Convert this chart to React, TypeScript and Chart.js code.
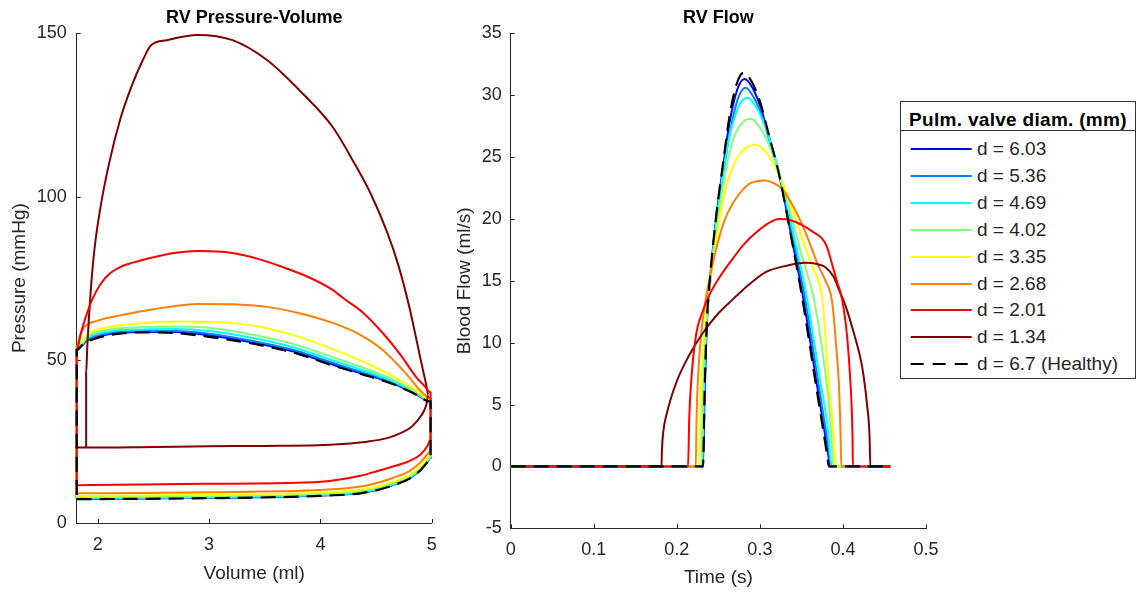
import React, { useEffect, useRef } from "react";
import { Chart, registerables } from "chart.js";

Chart.register(...registerables);

const FONT = "'Liberation Sans', Arial, Helvetica, sans-serif";
const AXIS_COLOR = "#262626";

// ---------- series meta ----------
const seriesLabels = ["d = 6.03", "d = 5.36", "d = 4.69", "d = 4.02", "d = 3.35", "d = 2.68", "d = 2.01", "d = 1.34", "d = 6.7 (Healthy)"];
const seriesColors = ["#0000FF", "#0080FF", "#00FFFF", "#80FF80", "#FFFF00", "#FF8000", "#FF0000", "#800000", "#000000"];
const seriesOrder = [8, 7, 6, 5, 4, 3, 1, 2, 0];

// ---------- axis ticks ----------
const pvVolumeTicks = [2, 3, 4, 5];
const pvPressureTicks = [0, 50, 100, 150];
const flowTimeTicks = [0, 0.1, 0.2, 0.3, 0.4, 0.5];
const flowValueTicks = [-5, 0, 5, 10, 15, 20, 25, 30, 35];

// ---------- RV pressure-volume loops ----------
const fillVolume = [1.81, 2.4, 3.0, 3.6, 4.0, 4.36, 4.5, 4.65, 4.8, 4.9, 4.96, 4.99];
const ejectVolume = [4.99, 4.85, 4.65, 4.35, 4.06, 3.8, 3.46, 3.0, 2.7, 2.4, 2.11, 1.9, 1.81];

const fillP603 = [7.4, 7.5, 7.7, 8.0, 8.4, 9.2, 10.1, 11.6, 13.7, 16.3, 18.7, 19.9];
const ejectP603 = [37.2, 39.6, 42.8, 46.0, 49.1, 52.1, 54.8, 57.5, 58.5, 58.5, 57.9, 55.8, 53.0];

const fillP536 = [7.5, 7.6, 7.8, 8.1, 8.5, 9.3, 10.2, 11.7, 13.8, 16.4, 18.8, 20.0];
const ejectP536 = [37.3, 39.8, 43.0, 46.4, 49.6, 52.6, 55.3, 58.0, 58.8, 58.8, 58.2, 56.0, 53.0];

const fillP469 = [7.6, 7.7, 7.9, 8.2, 8.6, 9.4, 10.3, 11.8, 13.9, 16.5, 18.9, 20.1];
const ejectP469 = [37.4, 40.0, 43.4, 47.1, 50.4, 53.4, 56.2, 58.8, 59.4, 59.3, 58.7, 56.5, 53.0];

const fillP402 = [7.9, 8.0, 8.2, 8.5, 8.9, 9.7, 10.6, 12.1, 14.2, 16.8, 19.2, 20.4];
const ejectP402 = [37.5, 40.3, 44.0, 48.0, 51.4, 54.4, 57.2, 59.8, 60.2, 60.0, 59.3, 57.0, 53.0];

const fillP335 = [8.3, 8.4, 8.6, 8.9, 9.3, 10.2, 11.1, 12.6, 14.7, 17.3, 19.7, 21.0];
const ejectVolume335 = [4.99, 4.86, 4.65, 4.41, 4.1, 3.81, 3.5, 3.21, 3.0, 2.7, 2.4, 2.11, 1.9, 1.81];
const ejectP335 = [37.7, 40.7, 45.0, 49.0, 53.4, 57.0, 59.8, 61.3, 61.6, 61.7, 61.2, 60.1, 57.6, 53.5];

const fillP268 = [9.1, 9.2, 9.4, 9.7, 10.1, 11.2, 12.2, 13.8, 15.9, 18.6, 21.0, 22.0];
const ejectVolume268 = [4.99, 4.92, 4.75, 4.56, 4.35, 4.11, 3.82, 3.52, 3.2, 2.91, 2.5, 2.2, 2.0, 1.88, 1.84, 1.81];
const ejectP268 = [38.3, 39.8, 46.5, 53.0, 57.8, 61.3, 64.2, 66.2, 67.0, 67.1, 65.5, 63.6, 62.0, 60.0, 57.5, 54.0];

const fillP201 = [11.6, 11.8, 12.0, 12.2, 12.6, 14.5, 15.8, 17.3, 19.0, 21.0, 23.5, 25.5];
const ejectVolume201 = [4.99, 4.93, 4.86, 4.72, 4.56, 4.38, 4.2, 4.11, 3.9, 3.66, 3.44, 3.21, 2.91, 2.7, 2.47, 2.3, 2.2, 2.11, 2.02, 1.95, 1.9, 1.85, 1.81];
const ejectP201 = [40.0, 42.2, 44.7, 51.5, 58.2, 64.5, 69.0, 71.4, 75.2, 78.4, 80.9, 82.7, 83.3, 82.8, 81.2, 79.6, 78.4, 76.5, 73.0, 68.5, 64.0, 58.5, 53.0];

const fillVolume134 = [1.81, 1.895, 2.5, 3.0, 3.5, 3.97, 4.2, 4.42, 4.6, 4.72, 4.82, 4.9, 4.95, 4.97];
const fillP134 = [23.1, 23.1, 23.3, 23.5, 23.6, 23.8, 24.2, 24.9, 26.0, 27.5, 29.5, 32.6, 36.0, 39.2];
const ejectVolume134 = [4.95, 4.92, 4.87, 4.8, 4.7, 4.6, 4.45, 4.3, 4.11, 3.81, 3.52, 3.21, 2.89, 2.62, 2.48, 2.4, 2.3, 2.2, 2.1, 2.02, 1.97, 1.94, 1.92, 1.905, 1.895, 1.895];
const ejectP134 = [42.5, 47.0, 55.0, 66.0, 79.0, 89.0, 101.0, 110.5, 121.3, 132.6, 141.8, 147.9, 149.5, 147.9, 146.4, 141.5, 133.5, 123.5, 110.0, 96.0, 84.0, 73.0, 63.0, 54.0, 46.0, 23.1];

const fillPHealthy = [7.3, 7.4, 7.6, 7.9, 8.3, 9.1, 10.0, 11.5, 13.6, 16.2, 18.6, 19.8];
const ejectVolumeHealthy = [4.99, 4.85, 4.65, 4.35, 4.06, 3.8, 3.46, 3.0, 2.7, 2.4, 2.11, 1.9, 1.86, 1.81];
const ejectPHealthy = [37.2, 39.5, 42.6, 45.8, 48.8, 51.8, 54.5, 57.0, 58.2, 58.4, 57.6, 55.5, 54.6, 53.0];

// ---------- RV flow ----------
const time603 = [0, 0.2315, 0.2335, 0.236, 0.2395, 0.2475, 0.2555, 0.2635, 0.2725, 0.2814, 0.291, 0.301, 0.311, 0.3245, 0.3385, 0.3525, 0.368, 0.382, 0.3845, 0.457];
const flow603 = [0, 0, 6, 11.5, 14.8, 20.1, 24.1, 27.8, 30.4, 31.3, 30.6, 29.0, 26.6, 23.2, 18.4, 13.5, 6.9, 1.1, 0, 0];

const time536 = [0, 0.231, 0.233, 0.236, 0.24, 0.248, 0.256, 0.264, 0.273, 0.2826, 0.292, 0.302, 0.312, 0.326, 0.34, 0.3545, 0.37, 0.3835, 0.386, 0.457];
const flow536 = [0, 0, 6, 11.4, 14.8, 19.9, 23.7, 27.0, 29.6, 30.6, 29.9, 28.4, 26.2, 22.9, 18.4, 13.5, 6.9, 1.1, 0, 0];

const time469 = [0, 0.2305, 0.2325, 0.2355, 0.2395, 0.2465, 0.2545, 0.2625, 0.271, 0.278, 0.2854, 0.295, 0.305, 0.315, 0.328, 0.342, 0.357, 0.372, 0.381, 0.387, 0.457];
const flow469 = [0, 0, 6, 11.3, 14.6, 19.2, 23.2, 26.4, 28.5, 29.5, 29.8, 29.1, 27.7, 25.7, 22.5, 18.3, 13.5, 7.2, 3.5, 0, 0];

const time402 = [0, 0.2295, 0.2315, 0.235, 0.2395, 0.2455, 0.2535, 0.2615, 0.27, 0.279, 0.2894, 0.299, 0.309, 0.319, 0.332, 0.349, 0.365, 0.377, 0.384, 0.389, 0.457];
const flow402 = [0, 0, 6, 11.2, 14.3, 18.0, 21.8, 24.8, 26.8, 27.8, 28.1, 27.5, 26.3, 24.5, 21.6, 17.4, 13.5, 8.5, 4.5, 0, 0];

const time335 = [0, 0.2267, 0.229, 0.2335, 0.238, 0.2435, 0.2515, 0.2595, 0.27, 0.282, 0.2954, 0.306, 0.316, 0.327, 0.34, 0.352, 0.364, 0.3752, 0.383, 0.389, 0.3915, 0.457];
const flow335 = [0, 0, 6, 11, 13.8, 16.5, 20.0, 22.6, 24.6, 25.7, 26.0, 25.5, 24.5, 23.0, 20.6, 18.2, 16.0, 13.5, 6.8, 2.5, 0, 0];

const time268 = [0, 0.2228, 0.2238, 0.2258, 0.2295, 0.2345, 0.2405, 0.2475, 0.257, 0.267, 0.2865, 0.306, 0.3165, 0.327, 0.341, 0.355, 0.371, 0.379, 0.387, 0.3915, 0.395, 0.397, 0.398, 0.457];
const flow268 = [0, 0, 4, 7.5, 10.8, 13.4, 15.5, 17.6, 19.8, 21.2, 22.8, 23.1, 22.9, 22.4, 20.9, 18.9, 16.1, 15.0, 13.3, 10.0, 6.8, 3.0, 0, 0];

const time201 = [0, 0.2135, 0.215, 0.218, 0.2236, 0.2315, 0.2395, 0.2535, 0.2675, 0.2815, 0.2954, 0.309, 0.323, 0.337, 0.351, 0.363, 0.375, 0.381, 0.385, 0.393, 0.399, 0.405, 0.409, 0.4115, 0.412, 0.457];
const flow201 = [0, 0, 4, 7.5, 10.8, 12.6, 13.9, 15.5, 16.8, 18.0, 18.9, 19.6, 20.0, 19.9, 19.5, 19.0, 18.4, 17.7, 16.8, 14.9, 13.5, 10.5, 6.8, 2.5, 0, 0];

const time134 = [0, 0.1815, 0.182, 0.1835, 0.188, 0.1995, 0.215, 0.2315, 0.249, 0.2674, 0.287, 0.307, 0.331, 0.355, 0.369, 0.379, 0.389, 0.395, 0.403, 0.413, 0.423, 0.429, 0.432, 0.433, 0.457];
const flow134 = [0, 0, 1.2, 2.7, 4.3, 6.8, 9.0, 10.8, 12.3, 13.5, 14.7, 15.7, 16.2, 16.45, 16.35, 16.1, 15.3, 14.3, 13.0, 10.8, 8.1, 5.0, 2.5, 0, 0];

const timeHealthy = [0, 0.2315, 0.2335, 0.236, 0.2395, 0.2475, 0.2555, 0.2635, 0.2715, 0.2802, 0.29, 0.3, 0.31, 0.3234, 0.3375, 0.3513, 0.367, 0.381, 0.383, 0.457];
const flowHealthy = [0, 0, 6, 11.5, 14.9, 20.3, 24.4, 28.3, 30.8, 31.8, 31.1, 29.5, 27.0, 23.5, 18.6, 13.5, 6.8, 0.9, 0, 0];

// ---------- tables built from the arrays ----------
const pvTable = [
  [fillVolume, fillP603, ejectVolume, ejectP603],
  [fillVolume, fillP536, ejectVolume, ejectP536],
  [fillVolume, fillP469, ejectVolume, ejectP469],
  [fillVolume, fillP402, ejectVolume, ejectP402],
  [fillVolume, fillP335, ejectVolume335, ejectP335],
  [fillVolume, fillP268, ejectVolume268, ejectP268],
  [fillVolume, fillP201, ejectVolume201, ejectP201],
  [fillVolume134, fillP134, ejectVolume134, ejectP134],
  [fillVolume, fillPHealthy, ejectVolumeHealthy, ejectPHealthy],
];
const flowTable = [
  [time603, flow603],
  [time536, flow536],
  [time469, flow469],
  [time402, flow402],
  [time335, flow335],
  [time268, flow268],
  [time201, flow201],
  [time134, flow134],
  [timeHealthy, flowHealthy],
];

const HEALTHY_DASH = [15, 8];

function lineStyle(i: number) {
  const healthy = i === seriesLabels.length - 1;
  return {
    label: seriesLabels[i],
    borderColor: seriesColors[i],
    backgroundColor: seriesColors[i],
    borderWidth: healthy ? 2.2 : 2,
    borderDash: healthy ? HEALTHY_DASH : [],
    pointRadius: 0,
    pointHoverRadius: 0,
    fill: false,
    cubicInterpolationMode: "monotone" as const,
    order: seriesOrder[i],
    clip: false as const,
  };
}

function pvDatasets() {
  return pvTable.map(([fv, fp, ev, ep], i) => {
    const pts: { x: number; y: number }[] = [];
    fv.forEach((v, k) => pts.push({ x: v, y: fp[k] }));
    ev.forEach((v, k) => pts.push({ x: v, y: ep[k] }));
    pts.push({ x: fv[0], y: fp[0] });
    return { ...lineStyle(i), data: pts };
  });
}

function flowDatasets() {
  return flowTable.map(([t, f], i) => ({
    ...lineStyle(i),
    data: t.map((v, k) => ({ x: v, y: f[k] })),
  }));
}

const inwardTicks = {
  id: "inwardTicks",
  beforeDatasetsDraw(chart: any) {
    const { ctx, chartArea, scales } = chart;
    const len = 4;
    ctx.save();
    ctx.strokeStyle = AXIS_COLOR;
    ctx.lineWidth = 1;
    ctx.beginPath();
    for (const t of scales.x.ticks) {
      const px = Math.round(scales.x.getPixelForValue(t.value)) + 0.5;
      ctx.moveTo(px, chartArea.bottom);
      ctx.lineTo(px, chartArea.bottom - len);
    }
    for (const t of scales.y.ticks) {
      const py = Math.round(scales.y.getPixelForValue(t.value)) + 0.5;
      ctx.moveTo(chartArea.left, py);
      ctx.lineTo(chartArea.left + len, py);
    }
    ctx.stroke();
    ctx.restore();
  },
};

type Geo = {
  yWidth: number;
  xHeight: number;
  padRight: number;
  yTitlePad: number;
  yTickPad: number;
  xTickPad: number;
  xTitlePad: number;
};

function makeConfig(
  title: string,
  xTitle: string,
  yTitle: string,
  xMin: number,
  xMax: number,
  yMin: number,
  yMax: number,
  xTicks: number[],
  yTicks: number[],
  datasets: any[],
  g: Geo
): any {
  const tickFont = { family: FONT, size: 18 };
  const titleFont = { family: FONT, size: 19 };
  return {
    type: "line",
    data: { datasets },
    plugins: [inwardTicks],
    options: {
      responsive: false,
      maintainAspectRatio: false,
      animation: false,
      events: [],
      layout: { padding: { left: 0, right: g.padRight, top: 0, bottom: 0 } },
      plugins: {
        legend: { display: false },
        tooltip: { enabled: false },
        title: {
          display: true,
          text: title,
          fullSize: false,
          color: "#000",
          font: { family: FONT, size: 18, weight: "bold" },
          padding: { top: 7.2, bottom: 4.5 },
        },
      },
      scales: {
        x: {
          type: "linear",
          min: xMin,
          max: xMax,
          afterBuildTicks: (s: any) => {
            s.ticks = xTicks.map((v) => ({ value: v }));
          },
          afterFit: (s: any) => {
            s.height = g.xHeight;
          },
          grid: { display: false, drawTicks: false },
          border: { display: true, color: AXIS_COLOR, width: 1 },
          ticks: {
            color: AXIS_COLOR,
            font: tickFont,
            padding: g.xTickPad,
            maxRotation: 0,
            autoSkip: false,
            callback: (v: number) => String(v),
          },
          title: {
            display: true,
            text: xTitle,
            color: AXIS_COLOR,
            font: titleFont,
            padding: { top: 0, bottom: g.xTitlePad },
          },
        },
        y: {
          type: "linear",
          min: yMin,
          max: yMax,
          afterBuildTicks: (s: any) => {
            s.ticks = yTicks.map((v) => ({ value: v }));
          },
          afterFit: (s: any) => {
            s.width = g.yWidth;
          },
          grid: { display: false, drawTicks: false },
          border: { display: true, color: AXIS_COLOR, width: 1 },
          ticks: {
            color: AXIS_COLOR,
            font: tickFont,
            padding: g.yTickPad,
            autoSkip: false,
            callback: (v: number) => String(v),
          },
          title: {
            display: true,
            text: yTitle,
            color: AXIS_COLOR,
            font: titleFont,
            padding: { top: g.yTitlePad, bottom: 0 },
          },
        },
      },
    },
  };
}

const LEGEND_ROW0 = 47.3;
const LEGEND_STEP = 26.84;

export default function App() {
  const pvRef = useRef<HTMLCanvasElement | null>(null);
  const flowRef = useRef<HTMLCanvasElement | null>(null);

  useEffect(() => {
    Chart.defaults.font.family = FONT;
    const pv = new Chart(
      pvRef.current as HTMLCanvasElement,
      makeConfig(
        "RV Pressure-Volume",
        "Volume (ml)",
        "Pressure (mmHg)",
        1.81,
        5,
        0,
        150,
        pvVolumeTicks,
        pvPressureTicks,
        pvDatasets(),
        { yWidth: 76.7, xHeight: 70, padRight: 38.3, yTitlePad: 8.6, yTickPad: 10, xTickPad: 11.7, xTitlePad: 7.6 }
      )
    );
    const flow = new Chart(
      flowRef.current as HTMLCanvasElement,
      makeConfig(
        "RV Flow",
        "Time (s)",
        "Blood Flow (ml/s)",
        0,
        0.5,
        -5,
        35,
        flowTimeTicks,
        flowValueTicks,
        flowDatasets(),
        { yWidth: 70.7, xHeight: 64.7, padRight: 34, yTitlePad: 13.6, yTickPad: 9, xTickPad: 10.9, xTitlePad: 3.6 }
      )
    );
    return () => {
      pv.destroy();
      flow.destroy();
    };
  }, []);

  return (
    <div style={{ position: "fixed", left: 0, top: 0, width: 1137, height: 593, background: "#fff", overflow: "hidden", fontFamily: FONT }}>
      <canvas ref={pvRef} width={470} height={593} style={{ position: "absolute", left: 0, top: 0, width: 470, height: 593 }} />
      <canvas ref={flowRef} width={520} height={593} style={{ position: "absolute", left: 440, top: 0, width: 520, height: 593 }} />
      <div
        style={{
          position: "absolute",
          left: 900,
          top: 101,
          width: 236,
          height: 278,
          boxSizing: "border-box",
          border: "1px solid #333",
          background: "#fff",
          color: AXIS_COLOR,
        }}
      >
        <div
          style={{
            position: "absolute",
            left: 0,
            top: 0,
            width: "100%",
            height: 29,
            borderBottom: "1px solid #333",
            textAlign: "center",
            fontWeight: "bold",
            fontSize: 19,
            letterSpacing: 0.3,
            lineHeight: "22px",
            paddingTop: 7,
            boxSizing: "border-box",
            color: "#000",
            whiteSpace: "nowrap",
          }}
        >
          Pulm. valve diam. (mm)
        </div>
        {seriesLabels.map((lab, i) => {
          const cy = LEGEND_ROW0 + i * LEGEND_STEP;
          const healthy = i === seriesLabels.length - 1;
          return (
            <div key={lab} style={{ position: "absolute", left: 0, top: cy - 13, height: 26, width: "100%" }}>
              <svg width={72} height={26} style={{ position: "absolute", left: 0, top: 0 }}>
                <line
                  x1={9.7}
                  x2={70.7}
                  y1={13}
                  y2={13}
                  stroke={seriesColors[i]}
                  strokeWidth={healthy ? 2.2 : 2}
                  strokeDasharray={healthy ? "13 9" : undefined}
                />
              </svg>
              <span style={{ position: "absolute", left: 76, top: 0, lineHeight: "26px", fontSize: 19, whiteSpace: "nowrap" }}>{lab}</span>
            </div>
          );
        })}
      </div>
    </div>
  );
}
